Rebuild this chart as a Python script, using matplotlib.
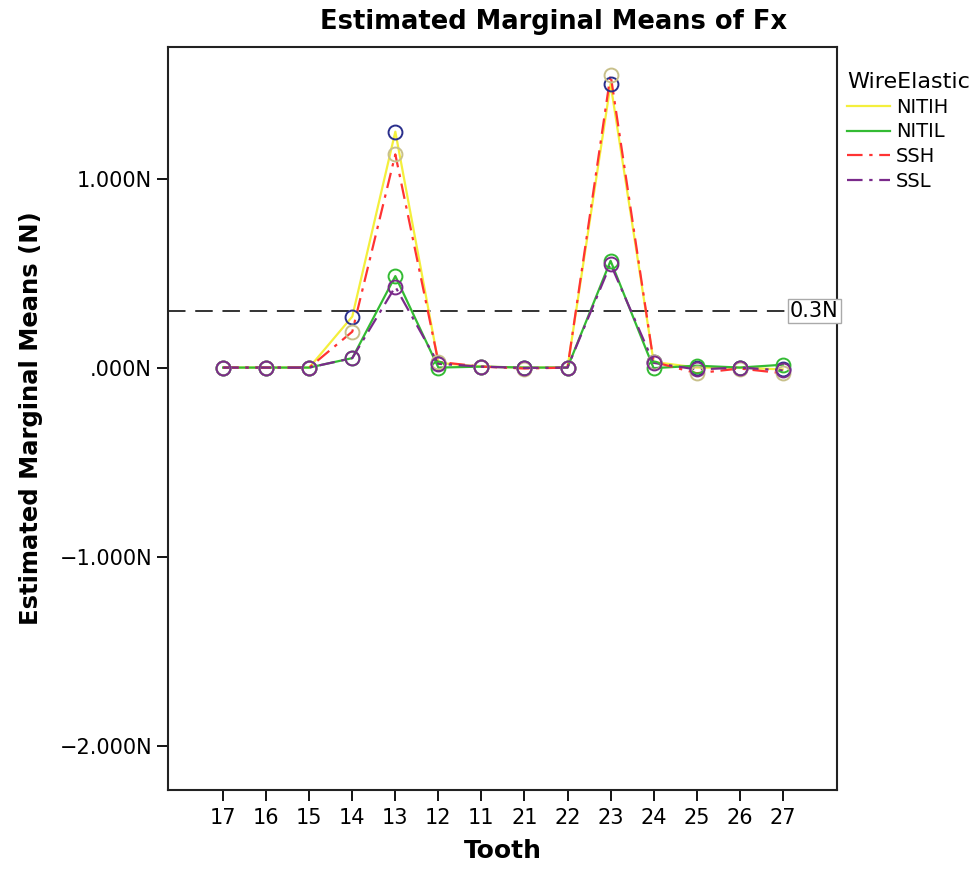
import matplotlib
matplotlib.use('Agg')
import matplotlib.pyplot as plt
from matplotlib.ticker import FuncFormatter

# data
teeth = ['17', '16', '15', '14', '13', '12', '11', '21', '22', '23', '24', '25', '26', '27']
nitih = [0.0, 0.0, 0.0, 0.27, 1.248, 0.025, 0.005, 0.0, 0.0, 1.50, 0.03, 0.0, 0.0, -0.01]
nitil = [0.0, 0.0, 0.0, 0.05, 0.484, 0.0, 0.005, 0.0, 0.0, 0.565, -0.003, 0.01, 0.0, 0.015]
ssh = [0.0, 0.0, 0.0, 0.19, 1.128, 0.03, 0.005, -0.005, 0.0, 1.55, 0.03, -0.03, -0.005, -0.03]
ssl = [0.0, 0.0, 0.0, 0.05, 0.428, 0.02, 0.005, -0.002, 0.0, 0.548, 0.025, -0.01, 0.0, -0.015]
ref_value = 0.3
y_ticks = [-2.0, -1.0, 0.0, 1.0]

fig = plt.figure(figsize=(9.77, 8.69), dpi=100)
ax = fig.add_axes([0.172, 0.0909, 0.6847, 0.855])

x = list(range(len(teeth)))
dashdot = (0, (7, 3, 1.5, 3))

# series: label, values, line colour, line style, marker colour
series = [
    ('NITIH', nitih, '#f4ef3c', '-', '#2a2f8c'),
    ('NITIL', nitil, '#33bb33', '-', '#33bb33'),
    ('SSH', ssh, '#ff3333', dashdot, '#c8c08a'),
    ('SSL', ssl, '#7a2a8a', dashdot, '#7a2a8a'),
]

for name, vals, lc, ls, mc in series:
    ax.plot(x, vals, color=lc, linestyle=ls, linewidth=1.6, label=name)
for name, vals, lc, ls, mc in series:
    ax.plot(x, vals, linestyle='none', marker='o', markersize=10,
            markerfacecolor='none', markeredgecolor=mc, markeredgewidth=1.4)

# reference line
ax.axhline(ref_value, color='#333333', linestyle=(0, (9, 5)), linewidth=1.4, zorder=1)
ax.text(14.3, ref_value, '0.3N', fontsize=15, ha='right', va='center',
        bbox=dict(facecolor='white', edgecolor='#aaaaaa', boxstyle='square,pad=0.1'))

ax.set_xlim(-1.28, 14.26)
ax.set_ylim(-2.235, 1.696)
ax.set_xticks(x)
ax.set_xticklabels(teeth)
ax.set_yticks(y_ticks)


def fmt(v, pos):
    if v == 0:
        return '.000N'
    return ('%.3fN' % v).replace('-', '\u2212')


ax.yaxis.set_major_formatter(FuncFormatter(fmt))
ax.tick_params(axis='both', labelsize=15, length=8, width=1.3, direction='out')
ax.tick_params(axis='x', pad=5)
for sp in ax.spines.values():
    sp.set_linewidth(1.5)
    sp.set_color('#222222')

ax.set_xlabel('Tooth', fontsize=18, fontweight='bold', labelpad=8)
ax.set_ylabel('Estimated Marginal Means (N)', fontsize=17.5, fontweight='bold', labelpad=12)
fig.text(554 / 977, 0.975, 'Estimated Marginal Means of Fx', fontsize=18.5,
         fontweight='bold', ha='center', va='center')

leg = ax.legend(title='WireElastic', loc='upper left', bbox_to_anchor=(0.995, 0.985),
                frameon=False, fontsize=14, title_fontsize=16, handlelength=2.2,
                handletextpad=0.3, labelspacing=0.3, borderaxespad=0.3)
leg._legend_box.align = 'left'

fig.savefig('out.png', dpi=100)
